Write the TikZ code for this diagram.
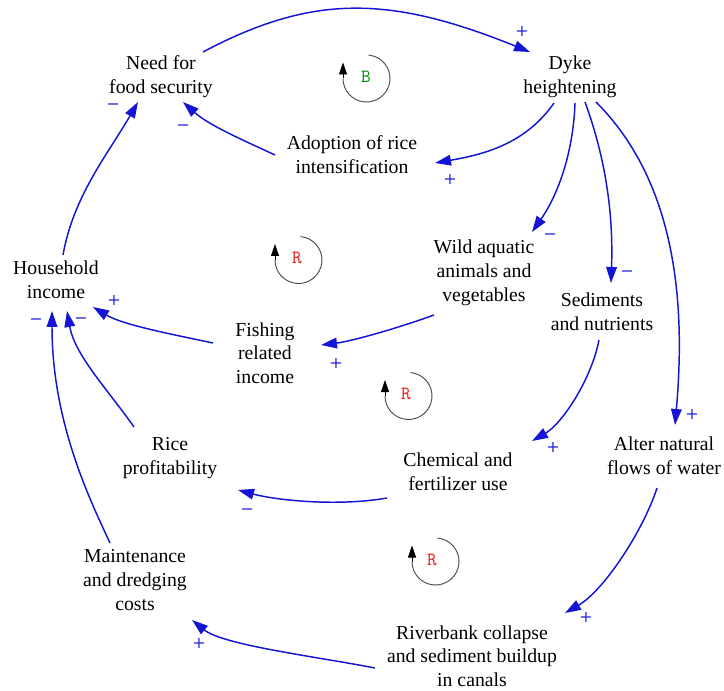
\documentclass[tikz,border=0pt]{standalone}
\usepackage{fontspec}
\setmainfont{Liberation Serif}
\newfontfamily\signfont{DejaVu Sans}
\usetikzlibrary{arrows.meta}
\definecolor{linkblue}{RGB}{20,20,215}
\definecolor{signblue}{RGB}{40,40,220}
\definecolor{loopgreen}{RGB}{0,140,0}
\definecolor{loopred}{RGB}{235,20,20}
\tikzset{
  txt/.style={align=center, inner sep=0pt, font=\fontsize{14.8}{17.8}\selectfont},
  conn/.style={draw=linkblue, line width=1.1pt, -{Triangle[length=12pt,width=8pt]}},
  sgn/.style={text=signblue, inner sep=0pt, font=\signfont\fontsize{12}{12}\selectfont},
  looplbl/.style={inner sep=0pt, font=\ttfamily\fontsize{14}{14}\selectfont},
  cldloop/.pic={
    \draw[black!70, line width=0.7pt] (85:23.5) arc[start angle=85, end angle=-180, radius=23.5];
    \draw[black, line width=0.6pt, -{Triangle[length=9pt,width=6pt]}] (-23.5,0) -- (-23.5,16);
  }
}
\begin{document}
\begin{tikzpicture}[x=0.75pt, y=0.75pt]
\path[use as bounding box] (0,0) rectangle (724,-691);

% variables
\node[txt] (need)  at (161,-77)  {Need for\\food security};
\node[txt] (dyke)  at (570,-77)  {Dyke\\heightening};
\node[txt] (adopt) at (352,-155) {Adoption of rice\\intensification};
\node[txt] (house) at (56,-280)  {Household\\income};
\node[txt] (wild)  at (484,-273) {Wild aquatic\\animals and\\vegetables};
\node[txt] (sed)   at (602,-312) {Sediments\\and nutrients};
\node[txt] (fish)  at (265,-353) {Fishing\\related\\income};
\node[txt] (alter) at (664,-456) {Alter natural\\flows of water};
\node[txt] (rice)  at (170,-458) {Rice\\profitability};
\node[txt] (chem)  at (458,-472) {Chemical and\\fertilizer use};
\node[txt] (maint) at (135,-580) {Maintenance\\and dredging\\costs};
\node[txt] (river) at (472,-656) {Riverbank collapse\\and sediment buildup\\in canals};

% loops
\pic at (366.5,-78.5) {cldloop};
\node[looplbl, text=loopgreen] (lb) at (366,-77) {B};
\pic at (298.5,-260) {cldloop};
\node[looplbl, text=loopred] (lr1) at (297,-258) {R};
\pic at (408.5,-396) {cldloop};
\node[looplbl, text=loopred] (lr2) at (406,-394) {R};
\pic at (435.5,-561.5) {cldloop};
\node[looplbl, text=loopred] (lr3) at (432,-560) {R};

% connectors
\draw[conn] ([shift={(42,25)}]need.center) .. controls +(28:125) and +(158:150) .. ([shift={(-40,25)}]dyke.center);
\draw[conn] ([shift={(-16,-26)}]dyke.center) .. controls +(-125:50) and +(10:50) .. ([shift={(83,-8)}]adopt.center);
\draw[conn] ([shift={(-77,0)}]adopt.center) .. controls +(155:35) and +(-42:35) .. ([shift={(22,-25)}]need.center);
\draw[conn] ([shift={(7,25)}]house.center) .. controls +(80:60) and +(-120:60) .. ([shift={(-23,-25)}]need.center);
\draw[conn] ([shift={(5,-26)}]dyke.center) .. controls +(-92:50) and +(55:45) .. ([shift={(48,41)}]wild.center);
\draw[conn] ([shift={(15,-25)}]dyke.center) .. controls +(-70:60) and +(88:70) .. ([shift={(9,29)}]sed.center);
\draw[conn] ([shift={(26,-25)}]dyke.center) .. controls +(-45:120) and +(85:110) .. ([shift={(11,31)}]alter.center);
\draw[conn] ([shift={(-50,-42)}]wild.center) .. controls +(-160:40) and +(7:30) .. ([shift={(56,8)}]fish.center);
\draw[conn] ([shift={(-52,10)}]fish.center) .. controls +(168:40) and +(-31:35) .. ([shift={(37,-27)}]house.center);
\draw[conn] ([shift={(-36,31)}]rice.center) .. controls +(125:45) and +(-80:45) .. ([shift={(11,-31)}]house.center);
\draw[conn] ([shift={(-25,37)}]maint.center) .. controls +(115:50) and +(-90:110) .. ([shift={(-4,-31)}]house.center);
\draw[conn] ([shift={(-3,-28)}]sed.center) .. controls +(-101:40) and +(30:35) .. ([shift={(74,31)}]chem.center);
\draw[conn] ([shift={(-71,-26)}]chem.center) .. controls +(-170:50) and +(-15:40) .. ([shift={(68,-32)}]rice.center);
\draw[conn] ([shift={(-7,-32)}]alter.center) .. controls +(-108:45) and +(30:45) .. ([shift={(93,43)}]river.center);
\draw[conn] ([shift={(-97,-12)}]river.center) .. controls +(169:60) and +(-39:40) .. ([shift={(57,-40)}]maint.center);

% polarity signs
\node[sgn] (s1)  at (522,-31)  {+};
\node[sgn] (s2)  at (450,-179) {+};
\node[sgn] (s3)  at (183,-128) {−};
\node[sgn] (s4)  at (113,-107) {−};
\node[sgn] (s5)  at (550,-237) {−};
\node[sgn] (s6)  at (627,-274) {−};
\node[sgn] (s7)  at (692,-414) {+};
\node[sgn] (s8)  at (336,-363) {+};
\node[sgn] (s9)  at (114,-300) {+};
\node[sgn] (s10) at (81,-321)  {−};
\node[sgn] (s11) at (36,-322)  {−};
\node[sgn] (s12) at (553,-447) {+};
\node[sgn] (s13) at (247,-512) {−};
\node[sgn] (s14) at (586,-617) {+};
\node[sgn] (s15) at (199,-643) {+};
\end{tikzpicture}
\end{document}
